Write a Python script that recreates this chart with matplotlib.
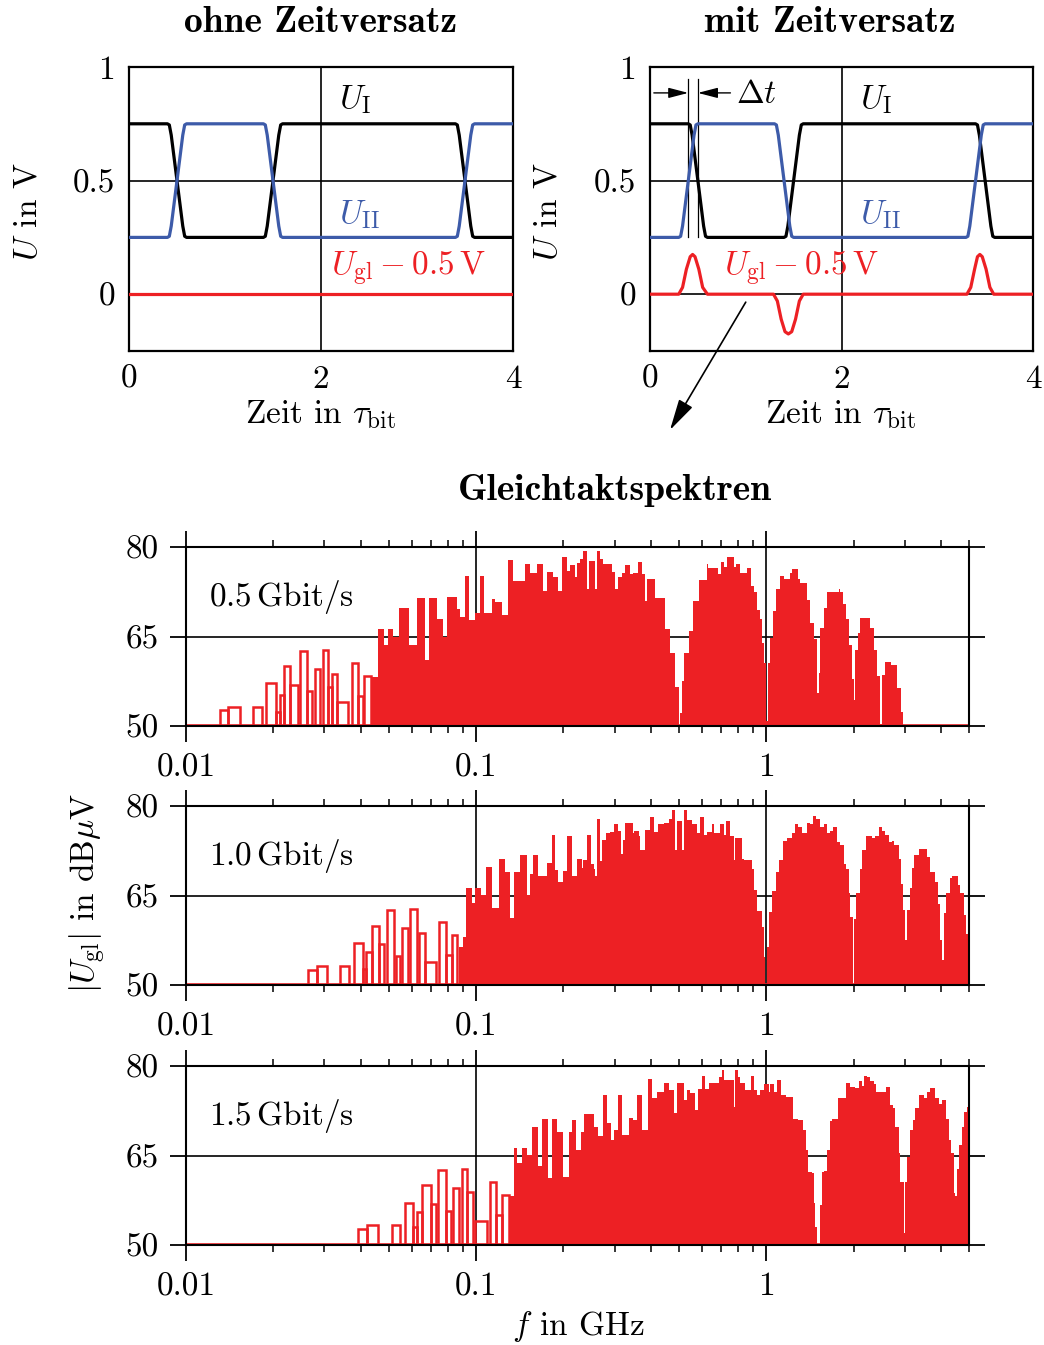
import matplotlib
matplotlib.use("Agg")
import matplotlib.pyplot as plt
from matplotlib.ticker import LogLocator, NullFormatter

plt.rcParams['font.family'] = ['cmr10', 'DejaVu Serif']
plt.rcParams['mathtext.fontset'] = 'cm'
plt.rcParams['axes.formatter.use_mathtext'] = True
plt.rcParams['font.size'] = 24

FS = 24      # normale Schrift
FS_B = 27    # fette Titel
ROT = '#ED2024'
BLAU = '#3D5BA9'

# --- Zeitbereich: t in tau_bit, U in V ---
t_ohne = [0, 0.40, 0.42, 0.44, 0.50, 0.56, 0.58, 0.60, 1.40, 1.42, 1.44, 1.50, 1.56, 1.58, 1.60,
          3.40, 3.42, 3.44, 3.50, 3.56, 3.58, 3.60, 4.0]
u1 = [0.75, 0.75, 0.745, 0.70, 0.50, 0.30, 0.255, 0.25, 0.25, 0.255, 0.30, 0.50, 0.70, 0.745, 0.75,
      0.75, 0.745, 0.70, 0.50, 0.30, 0.255, 0.25, 0.25]
u2 = [0.25, 0.25, 0.255, 0.30, 0.50, 0.70, 0.745, 0.75, 0.75, 0.745, 0.70, 0.50, 0.30, 0.255, 0.25,
      0.25, 0.255, 0.30, 0.50, 0.70, 0.745, 0.75, 0.75]
t_gl_ohne = [0, 4]
gl_ohne = [0, 0]

# mit Zeitversatz: U_II kommt frueher
t_u2_mit = [0, 0.30, 0.32, 0.34, 0.40, 0.46, 0.48, 0.50, 1.30, 1.32, 1.34, 1.40, 1.46, 1.48, 1.50,
            3.30, 3.32, 3.34, 3.40, 3.46, 3.48, 3.50, 4.0]
t_gl_mit = [0, 0.30, 0.34, 0.38, 0.42, 0.445, 0.47, 0.51, 0.55, 0.60,
            1.29, 1.33, 1.37, 1.41, 1.445, 1.48, 1.52, 1.56, 1.60,
            3.31, 3.35, 3.39, 3.42, 3.445, 3.47, 3.51, 3.55, 3.59, 4.0]
gl_mit = [0, 0, 0.03, 0.11, 0.165, 0.175, 0.165, 0.11, 0.03, 0,
          0, -0.03, -0.11, -0.165, -0.175, -0.165, -0.11, -0.03, 0,
          0, 0.03, 0.11, 0.165, 0.175, 0.165, 0.11, 0.03, 0, 0]
dt_von, dt_bis = 0.40, 0.50

# --- Gleichtaktspektren: f in GHz, Pegel in dBuV ---
# einzelne Linien (niedrige Frequenzen)
sp05_lo = [0.01310, 0.01399, 0.01698, 0.01888, 0.02043, 0.02110, 0.02183, 0.02285, 0.02474,
           0.02620, 0.02785, 0.02961, 0.03095, 0.03180, 0.03309, 0.03727, 0.03927, 0.04119]
sp05_hi = [0.01399, 0.01536, 0.01824, 0.02043, 0.02110, 0.02183, 0.02285, 0.02439, 0.02620,
           0.02713, 0.02900, 0.03095, 0.03180, 0.03309, 0.03628, 0.03927, 0.04087, 0.04345]
sp05_db = [52.6, 53.2, 53.2, 57.2, 52.4, 55.2, 60.0, 56.8, 62.5, 55.8, 59.6, 62.8, 56.6, 58.7,
           54.0, 60.6, 55.1, 58.4]

sp10_lo = [0.02628, 0.02822, 0.03397, 0.03796, 0.04067, 0.04166, 0.04369, 0.04618, 0.04945,
           0.05300, 0.05544, 0.05926, 0.06375, 0.06671, 0.07471, 0.07862, 0.08245]
sp10_hi = [0.02822, 0.03056, 0.03648, 0.04067, 0.04166, 0.04369, 0.04618, 0.04818, 0.05216,
           0.05474, 0.05842, 0.06244, 0.06671, 0.07279, 0.07862, 0.08245, 0.08620]
sp10_db = [52.5, 53.2, 53.2, 57.1, 52.7, 55.5, 59.9, 56.8, 62.5, 54.9, 59.5, 62.7, 58.7, 53.9,
           60.5, 55.0, 58.3]

sp15_lo = [0.03927, 0.04198, 0.05122, 0.05691, 0.06048, 0.06244, 0.06498, 0.06980, 0.07413,
           0.07881, 0.08312, 0.08926, 0.09333, 0.09922, 0.1119, 0.1172, 0.1226]
sp15_hi = [0.04198, 0.04603, 0.05474, 0.06048, 0.06244, 0.06498, 0.06980, 0.07279, 0.07881,
           0.08180, 0.08758, 0.09333, 0.09741, 0.1089, 0.1172, 0.1226, 0.1300]
sp15_db = [52.7, 53.4, 53.4, 57.1, 53.0, 55.5, 60.1, 56.9, 62.6, 55.7, 59.6, 62.8, 58.8, 54.0,
           60.6, 55.1, 58.4]

# dichte Linien als Treppe (Kanten + Pegel)
f05 = [0.0435, 0.0459, 0.0482, 0.0497, 0.0518, 0.0543, 0.0588, 0.0626, 0.0667, 0.0689,
       0.0734, 0.0770, 0.0794, 0.0860, 0.0881, 0.0917, 0.0946, 0.0992, 0.1032, 0.1066,
       0.1136, 0.1163, 0.1229, 0.1289, 0.1342, 0.1476, 0.1536, 0.1623, 0.1702, 0.1758,
       0.1843, 0.1917, 0.1980, 0.2055, 0.2110, 0.2195, 0.2225, 0.2284, 0.2344, 0.2408,
       0.2459, 0.2573, 0.2608, 0.2677, 0.2748, 0.2937, 0.3015, 0.3095, 0.3180, 0.3264,
       0.3397, 0.3487, 0.3628, 0.3727, 0.3826, 0.3878, 0.4142, 0.4485, 0.4641, 0.4856,
       0.4985, 0.5056, 0.5121, 0.5215, 0.5398, 0.5571, 0.5888, 0.6245, 0.6324, 0.6794,
       0.6979, 0.7125, 0.7320, 0.7714, 0.7883, 0.8142, 0.8578, 0.8855, 0.9042, 0.9288,
       0.9544, 0.9665, 0.9842, 1.0, 1.0104, 1.032, 1.0546, 1.0826, 1.118, 1.147,
       1.203, 1.226, 1.282, 1.310, 1.381, 1.410, 1.456, 1.496, 1.515, 1.535,
       1.576, 1.619, 1.775, 1.799, 1.839, 1.888, 1.922, 1.975, 2.000, 2.022,
       2.064, 2.109, 2.284, 2.344, 2.408, 2.473, 2.506, 2.573, 2.692, 2.823,
       2.914, 2.960]
db05 = [58.2, 66.2, 63.6, 66.3, 65.0, 69.8, 63.5, 71.4, 61.1, 71.4,
        67.9, 65.0, 71.7, 69.6, 68.3, 75.1, 67.7, 69.0, 75.1, 69.0,
        71.3, 70.8, 68.6, 77.9, 74.3, 77.1, 75.7, 77.1, 72.6, 75.8,
        74.9, 72.6, 78.3, 76.0, 77.0, 74.9, 77.3, 78.0, 79.4, 72.9,
        77.7, 72.9, 79.4, 78.0, 77.1, 75.8, 72.9, 74.9, 75.7, 77.0,
        75.4, 75.7, 77.5, 75.4, 71.0, 74.7, 71.5, 66.2, 62.2, 56.6,
        50.0, 52.1, 57.5, 62.2, 65.9, 71.0, 74.5, 77.1, 76.4, 75.4,
        77.5, 76.7, 78.3, 76.6, 77.1, 75.7, 76.4, 73.5, 72.4, 69.5,
        67.9, 63.9, 60.6, 50.8, 60.6, 64.8, 69.3, 72.9, 75.1, 74.7,
        75.7, 76.3, 74.7, 74.0, 71.2, 67.3, 64.5, 55.5, 58.9, 66.5,
        69.8, 72.4, 73.0, 72.4, 70.4, 67.9, 63.6, 57.8, 54.4, 62.8,
        65.6, 68.1, 66.5, 62.8, 58.3, 50.3, 58.6, 60.8, 60.3, 56.4,
        52.4]

f10 = [0.0876, 0.0904, 0.0924, 0.0967, 0.0992, 0.1040, 0.1083, 0.1138, 0.1203, 0.1259,
       0.1311, 0.1352, 0.1419, 0.1496, 0.1536, 0.1576, 0.1640, 0.1754, 0.1824, 0.1873,
       0.1922, 0.1990, 0.2054, 0.2137, 0.2236, 0.2314, 0.2345, 0.2408, 0.2486, 0.2539,
       0.2573, 0.2607, 0.2677, 0.2712, 0.2806, 0.2898, 0.2976, 0.3072, 0.3154, 0.3221,
       0.3264, 0.3469, 0.3506, 0.3629, 0.3677, 0.3826, 0.3981, 0.4110, 0.4220, 0.4426,
       0.4605, 0.4729, 0.4856, 0.4920, 0.5120, 0.5188, 0.5327, 0.5543, 0.5767, 0.5890,
       0.6112, 0.6243, 0.6496, 0.6617, 0.6903, 0.7126, 0.7278, 0.7513, 0.7715, 0.7818,
       0.8243, 0.8397, 0.8576, 0.8925, 0.9044, 0.9286, 0.9662, 0.9790, 0.9921, 1.0053,
       1.0187, 1.0459, 1.0826, 1.1028, 1.1415, 1.1785, 1.2263, 1.2589, 1.2823, 1.3274,
       1.3809, 1.4105, 1.4484, 1.4873, 1.5354, 1.5766, 1.6190, 1.6537, 1.6980, 1.7528,
       1.7904, 1.8483, 1.8879, 1.9231, 1.9489, 1.9851, 2.0116, 2.0439, 2.0988, 2.1380,
       2.2126, 2.3144, 2.3765, 2.4402, 2.5056, 2.5725, 2.6414, 2.7121, 2.7630, 2.8596,
       2.9134, 2.9600, 3.0151, 3.0553, 3.1208, 3.1791, 3.2382, 3.3519, 3.5809, 3.6770,
       3.8257, 3.8970, 3.9599, 4.0342, 4.0883, 4.1760, 4.2880, 4.3679, 4.5684, 4.6663,
       4.8171, 4.8942, 4.9464, 5.0]
db10 = [56.4, 58.1, 66.2, 63.7, 66.3, 65.1, 69.7, 62.9, 71.2, 69.0,
        61.3, 69.0, 71.8, 65.1, 68.6, 71.8, 68.2, 70.4, 75.1, 69.3,
        67.3, 69.1, 75.0, 68.2, 71.2, 69.6, 71.0, 75.1, 70.3, 69.5,
        68.2, 77.8, 70.8, 74.3, 75.4, 75.6, 77.0, 75.8, 72.0, 74.3,
        77.1, 75.4, 75.8, 75.0, 72.6, 75.9, 78.2, 75.6, 77.0, 77.2,
        77.8, 79.3, 72.6, 77.5, 72.6, 79.3, 77.6, 77.0, 75.4, 78.1,
        75.1, 75.6, 77.0, 75.4, 77.0, 75.1, 77.5, 75.0, 71.0, 74.7,
        71.2, 71.0, 70.9, 69.5, 65.9, 62.4, 59.8, 54.7, 50.2, 56.4,
        62.3, 65.8, 69.0, 70.9, 74.2, 74.6, 75.4, 77.0, 76.4, 75.4,
        77.2, 77.0, 78.3, 77.9, 76.5, 77.0, 75.4, 75.8, 76.4, 74.0,
        73.4, 70.3, 69.5, 65.4, 61.4, 50.0, 61.1, 65.4, 69.5, 72.6,
        75.0, 74.6, 75.0, 76.4, 75.8, 75.1, 74.0, 74.2, 73.4, 71.2,
        67.0, 62.6, 57.6, 62.6, 66.3, 69.6, 71.8, 72.8, 71.5, 69.0,
        67.3, 63.6, 57.6, 54.2, 62.0, 65.4, 68.0, 68.2, 66.7, 65.4,
        61.7, 58.6, 61.1]

f15 = [0.1300, 0.1352, 0.1388, 0.1437, 0.1496, 0.1556, 0.1640, 0.1684, 0.1776, 0.1824,
       0.1898, 0.1990, 0.2082, 0.2137, 0.2213, 0.2296, 0.2358, 0.2539, 0.2621, 0.2734,
       0.2837, 0.2914, 0.2976, 0.3072, 0.3179, 0.3352, 0.3469, 0.3600, 0.3726, 0.3898,
       0.4035, 0.4198, 0.4450, 0.4605, 0.4793, 0.4920, 0.5216, 0.5327, 0.5470, 0.5692,
       0.5798, 0.6001, 0.6162, 0.6326, 0.6582, 0.6849, 0.7033, 0.7165, 0.7715, 0.7818,
       0.7965, 0.8135, 0.8465, 0.8852, 0.9091, 0.9286, 0.9535, 0.9790, 1.0187, 1.0323,
       1.0599, 1.0884, 1.1235, 1.1722, 1.2359, 1.2823, 1.3379, 1.3738, 1.3884, 1.4371,
       1.4563, 1.4757, 1.4953, 1.5274, 1.5560, 1.5766, 1.6190, 1.6537, 1.6844, 1.7620,
       1.8879, 1.9489, 2.0276, 2.0824, 2.1380, 2.1777, 2.2242, 2.2839, 2.3452, 2.3954,
       2.5257, 2.5934, 2.6627, 2.7342, 2.7852, 2.8596, 2.8979, 2.9756, 3.0151, 3.0553,
       3.1208, 3.2040, 3.2642, 3.3519, 3.4873, 3.5809, 3.6770, 3.8257, 3.9283, 4.0342,
       4.1760, 4.2536, 4.3338, 4.4256, 4.4842, 4.5446, 4.6048, 4.7282, 4.8171, 4.9203,
       5.0]
db15 = [58.2, 66.2, 63.8, 66.3, 65.1, 69.8, 63.2, 71.2, 61.3, 71.2,
        69.0, 61.4, 69.0, 71.0, 65.9, 69.0, 71.9, 69.8, 68.3, 75.1,
        70.5, 67.6, 69.2, 75.1, 68.4, 71.3, 71.0, 75.2, 69.2, 77.9,
        74.6, 75.6, 77.1, 76.0, 72.2, 77.2, 74.3, 75.9, 75.5, 72.6,
        76.1, 78.3, 76.1, 77.1, 77.2, 78.1, 79.4, 77.6, 73.2, 79.4,
        78.1, 77.1, 75.9, 78.3, 75.9, 75.1, 76.0, 77.0, 75.6, 77.0,
        75.6, 77.6, 75.1, 74.8, 71.2, 71.0, 69.2, 65.9, 62.3, 62.0,
        57.0, 53.0, 50.0, 56.7, 62.3, 62.4, 65.9, 70.7, 71.2, 74.6,
        77.2, 76.4, 76.3, 77.5, 76.6, 78.3, 78.2, 77.5, 77.0, 75.7,
        75.6, 76.4, 73.5, 72.9, 69.8, 65.4, 60.6, 52.0, 60.6, 64.8,
        69.2, 71.0, 72.9, 75.1, 74.7, 75.7, 76.3, 74.7, 73.7, 74.3,
        71.2, 67.6, 65.4, 58.7, 58.2, 62.7, 66.8, 69.8, 72.3, 73.2]

raten = ['0.5', '1.0', '1.5']

W, H = 1044, 1345
fig = plt.figure(figsize=(W / 100, H / 100), dpi=100)


def zeit_achse(rect):
    ax = fig.add_axes(rect)
    ax.set_xlim(0, 4)
    ax.set_ylim(-0.25, 1)
    ax.set_xticks([0, 2, 4])
    ax.set_xticklabels(['0', '2', '4'])
    ax.set_yticks([0, 0.5, 1])
    ax.set_yticklabels(['0', '0.5', '1'])
    ax.tick_params(length=0, pad=10, labelsize=FS)
    ax.axvline(2, color='k', lw=1.2, zorder=1)
    ax.axhline(0.5, color='k', lw=1.2, zorder=1)
    ax.axhline(0, color='k', lw=1.2, zorder=1)
    for s in ax.spines.values():
        s.set_linewidth(1.6)
    return ax


ax_l = zeit_achse([129 / W, 1 - 351 / H, 384 / W, 284 / H])
ax_r = zeit_achse([650 / W, 1 - 351 / H, 383 / W, 284 / H])

ax_l.plot(t_ohne, u1, color='k', lw=2.3, zorder=3)
ax_l.plot(t_ohne, u2, color=BLAU, lw=2.3, zorder=3)
ax_l.plot(t_gl_ohne, gl_ohne, color=ROT, lw=2.3, zorder=3)

ax_r.plot(t_ohne, u1, color='k', lw=2.3, zorder=3)
ax_r.plot(t_u2_mit, u2, color=BLAU, lw=2.3, zorder=3)
ax_r.plot(t_gl_mit, gl_mit, color=ROT, lw=2.3, zorder=3)

for ax in (ax_l, ax_r):
    ax.text(2.19, 0.855, r'$U_{\mathrm{I}}$', va='center', fontsize=FS)
    ax.text(2.19, 0.35, r'$U_{\mathrm{II}}$', va='center', color=BLAU, fontsize=FS)
ax_l.text(2.10, 0.11, r'$U_{\mathrm{gl}} - 0.5\,\mathrm{V}$', va='center', color=ROT, fontsize=FS)
ax_r.text(0.77, 0.11, r'$U_{\mathrm{gl}} - 0.5\,\mathrm{V}$', va='center', color=ROT, fontsize=FS)

# Delta t
for t in (dt_von, dt_bis):
    ax_r.plot([t, t], [0.25, 0.945], color='k', lw=0.9, zorder=2)
pfeil = dict(arrowstyle='-|>,head_length=0.5,head_width=0.13', color='k', lw=1.0,
             shrinkA=0, shrinkB=0)
ax_r.annotate('', xy=(dt_von, 0.886), xytext=(0.04, 0.886), arrowprops=pfeil)
ax_r.annotate('', xy=(dt_bis, 0.886), xytext=(0.84, 0.886), arrowprops=pfeil)
ax_r.text(0.90, 0.88, r'$\Delta t$', va='center', fontsize=FS)

ax_r.annotate('', xy=(670 / W, 1 - 430 / H), xycoords='figure fraction',
              xytext=(1.0, -0.035), textcoords='data', annotation_clip=False,
              arrowprops=dict(arrowstyle='-|>,head_length=0.8,head_width=0.2', color='k',
                              lw=1.2, shrinkA=0, shrinkB=0))

for x in (320, 840):
    fig.text(x / W, 1 - 415 / H, r'Zeit in $\tau_{\mathrm{bit}}$', ha='center', va='center',
             fontsize=FS)
for x in (28, 548):
    fig.text(x / W, 1 - 211 / H, r'$U$ in V', ha='center', va='center', rotation=90,
             fontsize=FS)
fig.text(321 / W, 1 - 23 / H, 'ohne Zeitversatz', ha='center', va='center',
         fontfamily='cmb10', fontsize=FS_B)
fig.text(830 / W, 1 - 23 / H, 'mit Zeitversatz', ha='center', va='center',
         fontfamily='cmb10', fontsize=FS_B)

# --- Spektren ---
panels = [
    (726, sp05_lo, sp05_hi, sp05_db, f05, db05),
    (985, sp10_lo, sp10_hi, sp10_db, f10, db10),
    (1245, sp15_lo, sp15_hi, sp15_db, f15, db15),
]
for (y_unten, lo, hi, db, edges, levels), rate in zip(panels, raten):
    ax = fig.add_axes([186 / W, 1 - y_unten / H, 783 / W, 179 / H])
    ax.set_xscale('log')
    ax.set_xlim(0.01, 5)
    ax.set_ylim(50, 80)
    ax.axvline(0.1, color='k', lw=1.2, zorder=1)
    ax.axvline(1, color='k', lw=1.2, zorder=1)
    ax.axhline(65, color='k', lw=1.2, zorder=1)
    ax.axhline(50, color=ROT, lw=2.6, zorder=1.5)

    breiten = [h - l for l, h in zip(lo, hi)]
    hoehen = [d - 50 for d in db]
    ax.bar(lo, hoehen, width=breiten, bottom=50, align='edge', fill=False,
           edgecolor=ROT, linewidth=1.8, zorder=2)
    ax.stairs(levels, edges, baseline=50, fill=True, color=ROT, lw=0.6, zorder=2)

    ax.set_xticks([0.01, 0.1, 1])
    ax.set_xticklabels(['0.01', '0.1', '1'])
    ax.xaxis.set_minor_locator(LogLocator(base=10, subs=[2, 3, 4, 5, 6, 7, 8, 9], numticks=20))
    ax.xaxis.set_minor_formatter(NullFormatter())
    ax.set_yticks([50, 65, 80])
    ax.set_yticklabels(['50', '65', '80'])
    ax.tick_params(which='major', direction='out', length=11.5, width=1.3, top=True,
                   right=True, pad=8, labelsize=FS)
    ax.tick_params(which='minor', direction='out', length=5, width=1.1, top=True)
    for s in ax.spines.values():
        s.set_linewidth(1.5)
    ax.text(0.029, 0.72, r'$%s\,\mathrm{Gbit/s}$' % rate, transform=ax.transAxes,
            va='center', fontsize=FS)

fig.text(615 / W, 1 - 490 / H, 'Gleichtaktspektren', ha='center', va='center',
         fontfamily='cmb10', fontsize=FS_B)
fig.text(88 / W, 1 - 893 / H, r'$|U_{\mathrm{gl}}|$ in dB$\mu$V', ha='center', va='center',
         rotation=90, fontsize=FS)
fig.text(578 / W, 1 - 1327 / H, r'$f$ in GHz', ha='center', va='center', fontsize=FS)

fig.savefig('out.png', dpi=100)
